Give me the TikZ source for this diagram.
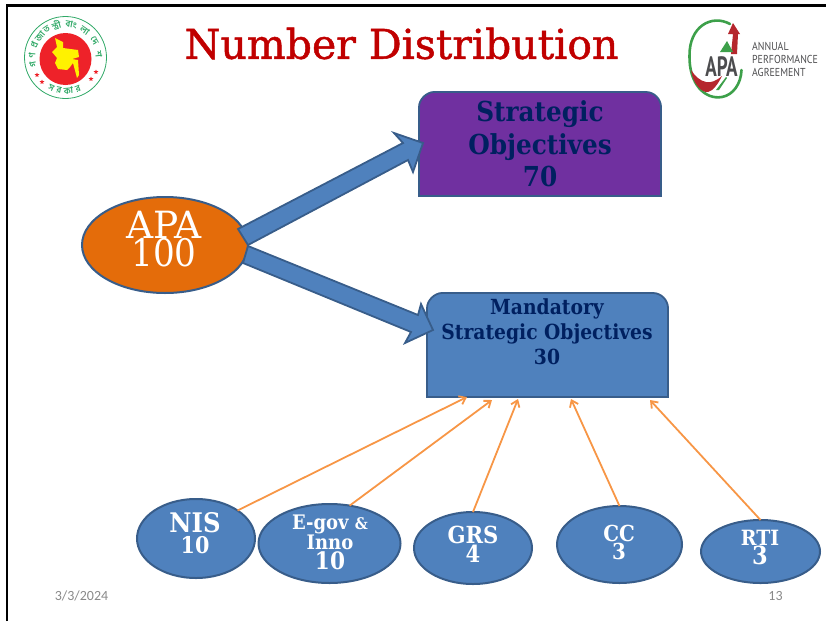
\documentclass[tikz,border=0pt]{standalone}
\usepackage{fontspec}
\setmainfont{DejaVu Serif Condensed}
\newfontfamily\widefont{DejaVu Serif}
\newfontfamily\titlefont[FakeBold=1.2]{DejaVu Serif}
\newfontfamily\calfont{Carlito}
\newfontfamily\ptfont{PT Sans}
\newfontfamily\bnfont[Script=Bengali]{Hind Siliguri}
\usetikzlibrary{shapes.geometric,arrows.meta,calc}
\normallineskiplimit=-100pt
\lineskiplimit=-100pt
\definecolor{apablue}{HTML}{4F81BD}
\definecolor{apaedge}{HTML}{385D8A}
\definecolor{apaorange}{HTML}{E46C0A}
\definecolor{apapurple}{HTML}{7030A0}
\definecolor{apanavy}{HTML}{002060}
\definecolor{apared}{HTML}{C00000}
\definecolor{linkorange}{HTML}{F79646}
\definecolor{footgrey}{HTML}{898989}
\definecolor{sealgreen}{HTML}{2FA866}
\definecolor{sealred}{HTML}{EE2229}
\definecolor{sealyellow}{HTML}{FFF200}
\definecolor{logogreen}{HTML}{3DA04A}
\definecolor{logored}{HTML}{B5272D}
\definecolor{logogrey}{HTML}{4D4D4F}
\newcommand{\fsz}[2]{\fontsize{#1}{#2}\selectfont}
\tikzset{
  oval/.style={ellipse,draw=apaedge,line width=2pt,fill=apablue,inner sep=0pt,outer sep=0pt},
  fatarrow/.style={draw=apaedge,line width=1.8pt,fill=apablue,line join=miter},
  boxedge/.style={draw=apaedge,line width=1.8pt},
  linkarrow/.style={draw=linkorange,line width=1.8pt,-{Straight Barb[length=6pt,width=9pt]}},
  ovaltext/.style={text=white,align=center,inner sep=0pt},
  boxtext/.style={text=apanavy,align=center,inner sep=0pt},
  foot/.style={text=footgrey,inner sep=0pt,font=\fsz{14}{16}\calfont},
  sealtext/.style={text=sealgreen,inner sep=0pt,font=\fsz{9}{9}\bnfont\bfseries},
  logotext/.style={text=logogrey,align=left,inner sep=0pt,anchor=west,xscale=0.86,transform shape,font=\fsz{11.5}{12.6}\ptfont}
}
\begin{document}
\begin{tikzpicture}[x=1pt,y=-1pt]
\useasboundingbox (0,0) rectangle (826,621);
% slide frame
\draw[black,line width=2.4pt] (7,621) -- (7,5.5) -- (826,5.5);
% title
\node[text=apared,inner sep=0pt,font=\fsz{41}{44}\titlefont] (title) at (401.5,43.5) {Number Distribution};
% government seal
\coordinate (seal) at (65.5,57.5);
\draw[sealgreen,line width=0.8pt] (seal) circle (41);
\fill[sealred] (65.5,59) circle (26);
\fill[sealyellow] (55,38) -- (63,42) -- (63,48) -- (78,50) -- (79,57) -- (72,59) -- (78,60) -- (79,75) -- (77,78) -- (73,63) -- (70,67) -- (67,70) -- (58,69) -- (55,63) -- (57,58) -- (52,52) -- (57,47) -- cycle;
\foreach \c/\a in {গ/192,ণ/176,প্র/158,জা/140,ত/124,ন্ত্রী/106,বাং/80,লা/55,দে/30,শ/6}{
  \node[sealtext,rotate=\a-90] at ($(seal)+({33.5*cos(\a)},{-33.5*sin(\a)})$) {\c};
}
\foreach \c/\a in {স/245,র/259,কা/275,র/292}{
  \node[sealtext,rotate=\a+90] at ($(seal)+({33.5*cos(\a)},{-33.5*sin(\a)})$) {\c};
}
\foreach \p in {(37,75),(42,82),(91,79),(96,72)}{
  \node[star,star points=5,star point ratio=2.2,fill=sealred,inner sep=0pt,minimum size=5pt] at \p {};
}
% APA logo
\draw[logogreen,line width=2.6pt,line cap=round] (730,24) .. controls (712,14) and (689,26) .. (689.5,56) .. controls (689,84) and (705,100) .. (722,97) .. controls (733,95) and (741,84) .. (741.5,70);
\fill[logored] (691,70) .. controls (693,84) and (702,93) .. (708,92) .. controls (713,91) and (718,84) .. (722,76) .. controls (716,81) and (711,83) .. (706,82) .. controls (700,81) and (695,76) .. (691,70) -- cycle;
\fill[logogreen] (716,90) -- (726,77) -- (727,78) -- (719,90) -- cycle;
\fill[logored] (733,23) -- (740,34) -- (738,34) -- (737,54) -- (731,54) -- (733,34) -- (728,34) -- cycle;
\fill[logogreen] (727,41) -- (733,52) -- (720,52) -- cycle;
\node[text=logogrey,inner sep=0pt,xscale=0.68,transform shape,font=\fsz{28}{28}\ptfont\bfseries] (apamark) at (721.5,67) {APA};
\node[logotext] (apaname) at (752,59.5) {ANNUAL\\PERFORMANCE\\AGREEMENT};
% boxes
\draw[boxedge,fill=apapurple] (419,196) -- (419,107) .. controls (419,99) and (427,92) .. (434,92) -- (646,92) .. controls (654,92) and (661,99) .. (661,107) -- (661,196) -- cycle;
\draw[boxedge,fill=apablue] (427,397) -- (427,308) .. controls (427,300) and (435,293) .. (442,293) -- (653,293) .. controls (661,293) and (668,300) .. (668,308) -- (668,397) -- cycle;
\node[boxtext,font=\bfseries\fsz{27.5}{32.5}] (strategic) at (540,144) {Strategic\\Objectives\\70};
\node[boxtext,font=\bfseries\fsz{20.8}{25}] (mandatory) at (547,332) {Mandatory\\Strategic Objectives\\30};
% APA ellipse
\node[oval,fill=apaorange,minimum width=166pt,minimum height=96pt] (apa) at (165,245) {};
\node[text=white,align=center,inner sep=0pt,font=\fsz{37.5}{28}] (apatext) at (164,239) {\widefont APA\\\fsz{38}{28}\rmfamily 100};
% block arrows
\draw[fatarrow] (238,229) -- (403,143) -- (394,133) -- (423,143) -- (413,172) -- (408,160) -- (248,245) -- cycle;
\draw[fatarrow] (248,246) -- (418,315) -- (421,304) -- (433,330) -- (405,343) -- (411,332) -- (243,263) -- cycle;
% small ovals
\node[oval,minimum width=118pt,minimum height=79pt] (nis) at (196,538.5) {};
\node[oval,minimum width=142pt,minimum height=79pt] (egov) at (329.5,543.5) {};
\node[oval,minimum width=118pt,minimum height=72pt] (grs) at (473,548) {};
\node[oval,minimum width=125pt,minimum height=77pt] (cc) at (619.5,544.5) {};
\node[oval,minimum width=119pt,minimum height=63pt] (rti) at (760.5,551.5) {};
\node[ovaltext,font=\bfseries\fsz{27}{21}] (nistext) at (195,533) {NIS\\\fsz{23}{21}10};
\node[ovaltext,font=\bfseries\fsz{20}{20}] (egovtext) at (330,542) {E-gov \fsz{16}{20}\&\\\fsz{20}{20}Inno\\\fsz{24}{20}10};
\node[ovaltext,font=\bfseries\fsz{23.5}{19}] (grstext) at (473,544) {GRS\\4};
\node[ovaltext,font=\bfseries\fsz{22}{18}] (cctext) at (619,542) {CC\\3};
\node[ovaltext,font=\bfseries\fsz{21}{19}] (rtitext) at (760,548) {RTI\\\fsz{25}{19}3};
% connectors
\coordinate (m1) at (467,397);
\coordinate (m2) at (492,400);
\coordinate (m3) at (518,399);
\coordinate (m4) at (571,399);
\coordinate (m5) at (650,400);
\draw[linkarrow] (nis.34) -- (m1);
\draw[linkarrow] (egov.62) -- (m2);
\draw[linkarrow] (grs.north) -- (m3);
\draw[linkarrow] (cc.north) -- (m4);
\draw[linkarrow] (rti.north) -- (m5);
% footer
\node[foot] (date) at (81.5,596) {3/3/2024};
\node[foot] (page) at (775.5,596) {13};
\end{tikzpicture}
\end{document}
